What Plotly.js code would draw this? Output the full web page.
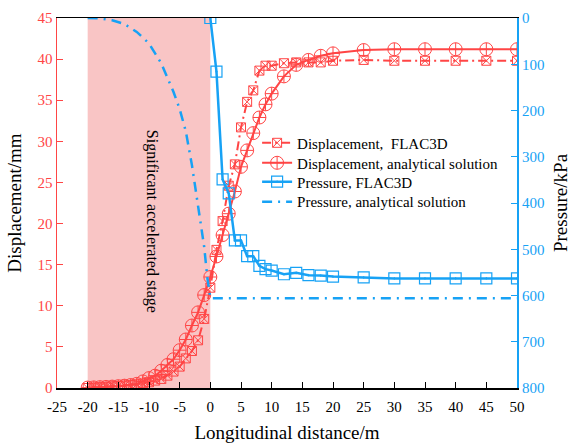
<!DOCTYPE html>
<html>
<head>
<meta charset="utf-8">
<script src="https://cdn.plot.ly/plotly-3.0.1.min.js"></script>
<style>html,body{margin:0;padding:0;background:#fff;}#chart{width:571px;height:443px;}</style>
</head>
<body>
<div id="chart"></div>
<script>
// Displacement, FLAC3D
const dispFlacX = [-20,-19,-18,-17,-16,-15,-14,-13,-12,-11,-10,-9,-8,-7,-6,-5,-4,-3,-2,-1,0,1,2,3,4,5,6,7,8,9,10,12,14,16,18,20,25,30,35,40,45,50];
const dispFlacY = [0,0.05,0.1,0.15,0.2,0.25,0.3,0.35,0.45,0.55,0.7,0.9,1.1,1.5,2.0,2.6,3.6,4.5,5.8,8.4,12.2,16.8,20.3,24.6,27.2,31.7,34.8,36.2,38.6,39.2,39.2,39.5,39.6,39.6,39.6,39.8,39.9,39.8,39.8,39.8,39.8,39.8];
// Displacement, analytical solution
const dispAnaX = [-20,-19,-18,-17,-16,-15,-14,-13,-12,-11,-10,-9,-8,-7,-6,-5,-4,-3,-2,-1,0,1,2,3,4,5,6,7,8,9,10,12,14,16,18,20,25,30,35,40,45,50];
const dispAnaY = [0.05,0.07,0.1,0.13,0.17,0.22,0.28,0.36,0.5,0.8,1.2,1.5,2.1,2.8,3.5,4.6,5.9,7.6,9.2,11.3,13.5,16.0,18.6,21.2,23.9,26.9,28.9,31.0,32.9,34.5,35.8,37.9,39.3,39.9,40.4,40.7,41.1,41.2,41.2,41.2,41.2,41.2];
// Pressure, FLAC3D
const presFlacX = [0,1,2,3,4,5,6,7,8,9,10,12,14,16,18,20,25,30,35,40,45,50];
const presFlacY = [0,116,349,379,481,481,515,515,536,543,546,554,551,556,557,559,561,563,563,563,563,563];
// Pressure, analytical solution
const presAnaX = [-20,-18,-16,-14,-12,-10,-8,-6,-5,-4,-3,-2,-1,-0.5,0,10,20,30,40,50];
const presAnaY = [0,1,5,13,30,55,98,160,197,245,318,410,495,560,606,606,606,606,606,606];
// Tick labels
const xTickVals = [-25,-20,-15,-10,-5,0,5,10,15,20,25,30,35,40,45,50];
const xTickText = ['-25','-20','-15','-10','-5','0','5','10','15','20','25','30','35','40','45','50'];

const red = '#ff4545';
const blue = '#17a2f5';
const font = 'Liberation Serif';

const traces = [
  {x: dispFlacX, y: dispFlacY, name: 'Displacement,  FLAC3D', mode: 'lines+markers', legend: 'legend',
   line: {color: red, width: 2, dash: '9px,4px,2px,4px'},
   marker: {symbol: 'square-x-open', size: 9, color: red, line: {width: 1}}},
  {x: dispAnaX, y: dispAnaY, name: 'Displacement, analytical solution', mode: 'lines+markers', legend: 'legend2',
   line: {color: red, width: 2},
   marker: {symbol: 'circle-cross-open', size: 13, color: red, line: {width: 1}}},
  {x: presFlacX, y: presFlacY, name: 'Pressure, FLAC3D', mode: 'lines+markers', yaxis: 'y2', legend: 'legend3',
   line: {color: blue, width: 2.5},
   marker: {symbol: 'square-open-dot', size: 11, color: blue, line: {width: 1.2}}},
  {x: presAnaX, y: presAnaY, name: 'Pressure, analytical solution', mode: 'lines', yaxis: 'y2', legend: 'legend4',
   line: {color: blue, width: 2.5, dash: '10px,6px,2px,6px'}}
];

function leg(y) {
  return {x: 0.435, y: y, xanchor: 'left', yanchor: 'middle', bgcolor: 'rgba(0,0,0,0)',
          font: {family: font, size: 15, color: '#000'}};
}

const layout = {
  width: 571, height: 443,
  margin: {l: 57, r: 54, t: 18, b: 55},
  paper_bgcolor: '#fff', plot_bgcolor: '#fff',
  font: {family: font, size: 15, color: '#000'},
  showlegend: true,
  legend: leg(0.662),
  legend2: leg(0.608),
  legend3: leg(0.557),
  legend4: leg(0.503),
  xaxis: {range: [-25, 50], tickmode: 'array', tickvals: xTickVals, ticktext: xTickText,
          showgrid: false, zeroline: false,
          showline: true, linecolor: '#000', linewidth: 1.5, mirror: true,
          ticks: 'inside', ticklen: 6, tickcolor: '#000', ticklabelstandoff: 4,
          tickfont: {family: font, size: 15, color: '#000'},
          title: {text: 'Longitudinal distance/m', font: {family: font, size: 19, color: '#000'}, standoff: 16}},
  yaxis: {range: [0, 45], dtick: 5, showgrid: false, zeroline: false,
          showline: true, linecolor: red, linewidth: 1.5,
          ticks: 'inside', ticklen: 6, tickcolor: red,
          tickfont: {family: font, size: 15, color: red},
          title: {text: 'Displacement/mm', font: {family: font, size: 19, color: '#000'}, standoff: 11}},
  yaxis2: {range: [800, 0], dtick: 100, overlaying: 'y', side: 'right', showgrid: false, zeroline: false,
           showline: true, linecolor: blue, linewidth: 2,
           ticks: 'inside', ticklen: 6, tickcolor: blue,
           tickfont: {family: font, size: 15, color: blue},
           title: {text: 'Pressure/kPa', font: {family: font, size: 19, color: '#000'}, standoff: 12}},
  shapes: [{type: 'rect', xref: 'x', yref: 'paper', x0: -20, x1: 0, y0: 0, y1: 1,
            fillcolor: '#f9c5c5', line: {width: 0}, layer: 'below'}],
  annotations: [{text: 'Significant accelerated stage', xref: 'x', yref: 'paper', x: -9.4, y: 0.45,
                 showarrow: false, textangle: 90, font: {family: font, size: 16, color: '#000'}}]
};

Plotly.newPlot('chart', traces, layout, {displayModeBar: false, staticPlot: true});
</script>
</body>
</html>
